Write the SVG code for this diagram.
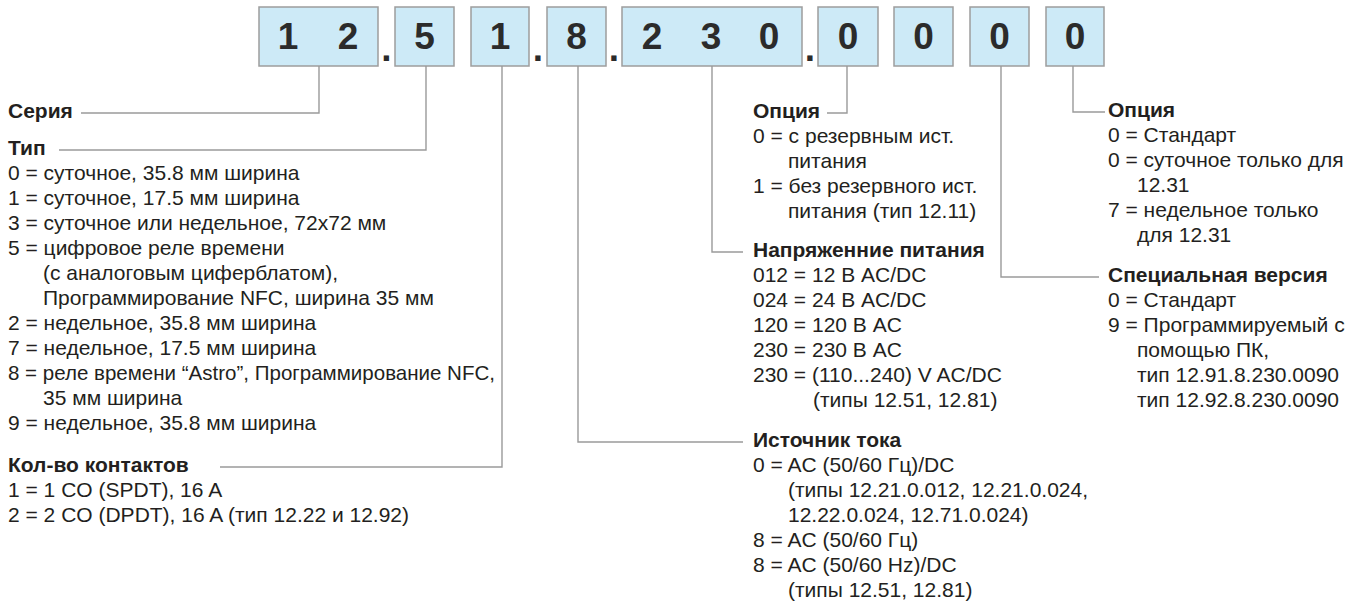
<svg xmlns="http://www.w3.org/2000/svg" width="1370" height="612" viewBox="0 0 1370 612">
<style>
.box{fill:#cdeaf7;stroke:#9d9d9d;stroke-width:1.5}
.dg{font-family:"Liberation Sans",Arial,sans-serif;font-weight:bold;font-size:37px;fill:#2b2b2b;text-anchor:middle}
.t{font-family:"Liberation Sans",Arial,sans-serif;font-size:21px;fill:#231f20}
.b{font-weight:bold}
.ln{fill:none;stroke:#9a9a9a;stroke-width:1.4}
</style>
<rect width="1370" height="612" fill="#ffffff"/>
<g id="code">
<rect class="box" x="259" y="7" width="119" height="59"/>
<rect class="box" x="395" y="7" width="59" height="59"/>
<rect class="box" x="471" y="7" width="58" height="59"/>
<rect class="box" x="547" y="7" width="59" height="59"/>
<rect class="box" x="622" y="7" width="180" height="59"/>
<rect class="box" x="818" y="7" width="60" height="59"/>
<rect class="box" x="894" y="7" width="59" height="59"/>
<rect class="box" x="970" y="7" width="59" height="59"/>
<rect class="box" x="1046" y="7" width="58" height="59"/>
<text class="dg" x="288" y="49">1</text>
<text class="dg" x="348" y="49">2</text>
<text class="dg" x="386.5" y="61">.</text>
<text class="dg" x="424.5" y="49">5</text>
<text class="dg" x="500" y="49">1</text>
<text class="dg" x="538" y="61">.</text>
<text class="dg" x="576.5" y="49">8</text>
<text class="dg" x="614" y="61">.</text>
<text class="dg" x="652" y="49">2</text>
<text class="dg" x="711" y="49">3</text>
<text class="dg" x="769" y="49">0</text>
<text class="dg" x="810" y="61">.</text>
<text class="dg" x="848" y="49">0</text>
<text class="dg" x="923.5" y="49">0</text>
<text class="dg" x="999.5" y="49">0</text>
<text class="dg" x="1075" y="49">0</text>
</g>
<g id="connectors">
<polyline class="ln" points="319,66 319,113 81,113"/>
<polyline class="ln" points="426,66 426,150 59,150"/>
<polyline class="ln" points="502,66 502,467 220,467"/>
<polyline class="ln" points="578,66 578,442 743,442"/>
<polyline class="ln" points="712,66 712,252 743,252"/>
<polyline class="ln" points="847,66 847,113 827,113"/>
<polyline class="ln" points="1001,66 1001,277 1099,277"/>
<polyline class="ln" points="1073,66 1073,112 1105,112"/>
</g>
<g id="series"><text class="t b" x="8" y="118">Серия</text></g>
<g id="type">
<text class="t b" x="8" y="155">Тип</text>
<text class="t" x="8" y="180">0 = суточное, 35.8 мм ширина</text>
<text class="t" x="8" y="205">1 = суточное, 17.5 мм ширина</text>
<text class="t" x="8" y="230">3 = суточное или недельное, 72x72 мм</text>
<text class="t" x="8" y="255">5 = цифровое реле времени</text>
<text class="t" x="43" y="280">(с аналоговым циферблатом),</text>
<text class="t" x="43" y="305">Программирование NFC, ширина 35 мм</text>
<text class="t" x="8" y="330">2 = недельное, 35.8 мм ширина</text>
<text class="t" x="8" y="355">7 = недельное, 17.5 мм ширина</text>
<text class="t" x="8" y="380" textLength="487" lengthAdjust="spacingAndGlyphs">8 = реле времени “Astro”, Программирование NFC,</text>
<text class="t" x="43" y="405">35 мм ширина</text>
<text class="t" x="8" y="430">9 = недельное, 35.8 мм ширина</text>
</g>
<g id="contacts">
<text class="t b" x="8" y="472">Кол-во контактов</text>
<text class="t" x="8" y="497">1 = 1 CO (SPDT), 16 A</text>
<text class="t" x="8" y="522">2 = 2 CO (DPDT), 16 A (тип 12.22 и 12.92)</text>
</g>
<g id="option1">
<text class="t b" x="753" y="118">Опция</text>
<text class="t" x="753" y="143">0 = с резервным ист.</text>
<text class="t" x="788" y="168">питания</text>
<text class="t" x="753" y="193">1 = без резервного ист.</text>
<text class="t" x="788" y="218">питания (тип 12.11)</text>
</g>
<g id="voltage">
<text class="t b" x="753" y="257">Напряженние питания</text>
<text class="t" x="753" y="282">012 = 12 В AC/DC</text>
<text class="t" x="753" y="307">024 = 24 В AC/DC</text>
<text class="t" x="753" y="332">120 = 120 В AC</text>
<text class="t" x="753" y="357">230 = 230 В AC</text>
<text class="t" x="753" y="382">230 = (110...240) V AC/DC</text>
<text class="t" x="813" y="407">(типы 12.51, 12.81)</text>
</g>
<g id="supply">
<text class="t b" x="753" y="447">Источник тока</text>
<text class="t" x="753" y="472">0 = AC (50/60 Гц)/DC</text>
<text class="t" x="788" y="497">(типы 12.21.0.012, 12.21.0.024,</text>
<text class="t" x="788" y="522">12.22.0.024, 12.71.0.024)</text>
<text class="t" x="753" y="547">8 = AC (50/60 Гц)</text>
<text class="t" x="753" y="572">8 = AC (50/60 Hz)/DC</text>
<text class="t" x="788" y="597">(типы 12.51, 12.81)</text>
</g>
<g id="option2">
<text class="t b" x="1108" y="117">Опция</text>
<text class="t" x="1108" y="142">0 = Стандарт</text>
<text class="t" x="1108" y="167">0 = суточное только для</text>
<text class="t" x="1137" y="192">12.31</text>
<text class="t" x="1108" y="217">7 = недельное только</text>
<text class="t" x="1137" y="242">для 12.31</text>
</g>
<g id="special">
<text class="t b" x="1108" y="282">Специальная версия</text>
<text class="t" x="1108" y="307">0 = Стандарт</text>
<text class="t" x="1108" y="332">9 = Программируемый с</text>
<text class="t" x="1137" y="357">помощью ПК,</text>
<text class="t" x="1137" y="382">тип 12.91.8.230.0090</text>
<text class="t" x="1137" y="407">тип 12.92.8.230.0090</text>
</g>
</svg>
